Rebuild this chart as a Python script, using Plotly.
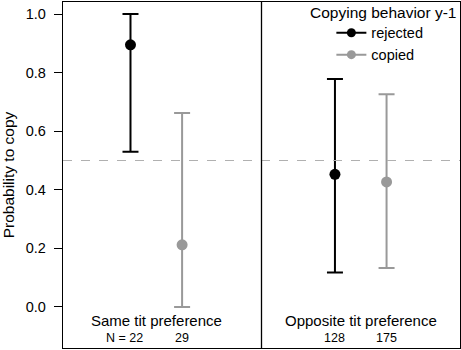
import plotly.graph_objects as go

groups = ["Same tit preference", "Opposite tit preference"]
group_centers = [0.97, 2.0]
series = ["rejected", "copied"]
offsets = [-0.13, 0.13]
colors = ["black", "#999999"]
est_rejected = [0.895, 0.453]
lo_rejected = [0.53, 0.118]
hi_rejected = [1.0, 0.778]
est_copied = [0.212, 0.427]
lo_copied = [0.0, 0.133]
hi_copied = [0.662, 0.726]
n_rejected = ["N = 22", "128"]
n_copied = ["29", "175"]
yticks = [0.0, 0.2, 0.4, 0.6, 0.8, 1.0]
legend_title = "Copying behavior y-1"

FONT = "Liberation Sans, Arial, sans-serif"
fig = go.Figure()
data = [(est_rejected, lo_rejected, hi_rejected), (est_copied, lo_copied, hi_copied)]
for s, (est, lo, hi), off, col in zip(series, data, offsets, colors):
    xs = [c + off for c in group_centers]
    fig.add_trace(go.Scatter(
        x=xs, y=est, mode="markers", showlegend=False,
        marker=dict(color=col, size=11, symbol="circle"),
        error_y=dict(type="data", symmetric=False,
                     array=[h - e for h, e in zip(hi, est)],
                     arrayminus=[e - l for e, l in zip(est, lo)],
                     color=col, thickness=2, width=8),
    ))
for s, col in zip(series, colors):
    fig.add_trace(go.Scatter(
        x=[None], y=[None], mode="lines+markers", name=s,
        line=dict(color=col, width=2),
        marker=dict(color=col, size=9),
    ))

fig.add_hline(y=0.5, line=dict(color="#b0b0b0", width=1.2, dash="dash"))
fig.add_vline(x=1.5, line=dict(color="black", width=1.3))

for c, g in zip(group_centers, groups):
    fig.add_annotation(x=c, y=-0.045, text=g, showarrow=False,
                       font=dict(family=FONT, size=15, color="black"))
for c, a, b in zip(group_centers, n_rejected, n_copied):
    fig.add_annotation(x=c + offsets[0] - (0.03 if a.startswith("N") else 0), y=-0.107, text=a, showarrow=False,
                       font=dict(family=FONT, size=12.5, color="black"))
    fig.add_annotation(x=c + offsets[1], y=-0.107, text=b, showarrow=False,
                       font=dict(family=FONT, size=12.5, color="black"))

fig.add_annotation(xref="paper", yref="paper", x=0.805, y=0.971, text=legend_title,
                   xanchor="center", yanchor="middle",
                   showarrow=False, font=dict(family=FONT, size=15.5, color="black"))

fig.update_layout(
    width=461, height=350,
    margin=dict(l=63, r=1, t=2, b=2),
    plot_bgcolor="white", paper_bgcolor="white",
    font=dict(family=FONT, size=14, color="black"),
    xaxis=dict(range=[0.5, 2.5], showticklabels=False, ticks="", showgrid=False,
               zeroline=False, showline=True, linecolor="black", linewidth=1.3, mirror=True),
    yaxis=dict(range=[-0.140, 1.041], tickvals=yticks, tickformat=".1f",
               ticks="outside", ticklen=8, tickcolor="black", tickwidth=1,
               ticklabelstandoff=5,
               showgrid=False, zeroline=False, showline=True, linecolor="black",
               linewidth=1.3, mirror=True, tickfont=dict(size=14.5),
               title=dict(text="Probability to copy", font=dict(size=15.5), standoff=8)),
    legend=dict(x=0.676, y=0.957, xanchor="left", yanchor="top",
                font=dict(size=14.5), bgcolor="rgba(0,0,0,0)", tracegroupgap=0,
                itemwidth=30),
    showlegend=True,
)
fig.write_html("out.html", config={"displayModeBar": False},
               post_script="document.body.style.margin='0px';")
